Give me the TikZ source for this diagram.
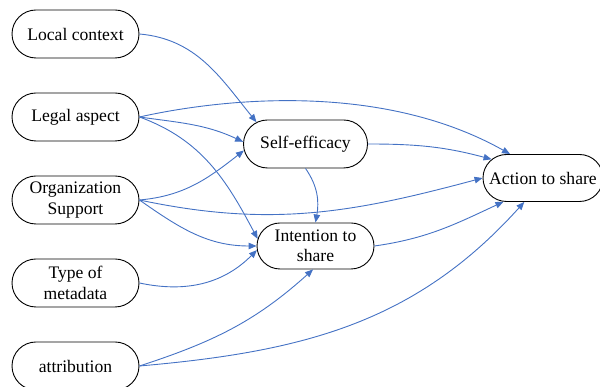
\documentclass[tikz,border=0pt]{standalone}
\usepackage{fontspec}
\setmainfont{Liberation Serif}
\usetikzlibrary{arrows.meta,shapes.misc}
\definecolor{edgeblue}{HTML}{4472C4}
\begin{document}
\begin{tikzpicture}[x=1pt,y=1pt,
  box/.style={rounded rectangle, draw=black, line width=0.9pt, inner xsep=-20pt, inner ysep=0pt,
    minimum height=48pt, align=center, font=\fontsize{17.6}{20.5}\selectfont},
  lbox/.style={box, minimum width=87pt},
  link/.style={draw=edgeblue, line width=0.9pt, -{Triangle[length=8pt,width=6.5pt]}}]
\useasboundingbox (0,0) rectangle (600,387);
\node[lbox] (lc) at (75.5,353) {Local context};
\node[lbox] (la) at (75.5,270) {Legal aspect};
\node[lbox] (os) at (75.5,187) {Organization\\Support};
\node[lbox] (tm) at (75.5,104) {Type of\\metadata};
\node[lbox] (at) at (75.5,21) {attribution};
\node[box, minimum width=84pt] (se) at (305.5,243) {Self-efficacy};
\node[box, minimum width=77pt, minimum height=46pt] (is) at (315.5,141) {Intention to\\share};
\node[box, minimum width=80pt, minimum height=47pt] (ac) at (543,209) {Action to share};
% edges
\draw[link] (lc.east) to[out=-5, in=129] (se.156);
\draw[link] (la.east) .. controls (220,288) and (380,306) .. (ac.144);
\draw[link] (la.east) to[out=-8, in=155] (se.178);
\draw[link] (la.east) to[out=-20, in=118] (is.173);
\draw[link] (os.east) to[out=5, in=218] (se.186);
\draw[link] (os.east) to[out=-12, in=195] (ac.west);
\draw[link] (os.east) to[out=-35, in=180] (is.180);
\draw[link] (tm.east) to[out=-12, in=225] (is.184);
\draw[link] (at.east) to[out=18, in=222] (is.264);
\draw[link] (at.east) to[out=5, in=228] (ac.232);
\draw[link] (se.south) to[out=-55, in=80] (is.north);
\draw[link] (se.east) to[out=0, in=165] (ac.160);
\draw[link] (is.east) to[out=8, in=205] (ac.211);
\end{tikzpicture}
\end{document}
